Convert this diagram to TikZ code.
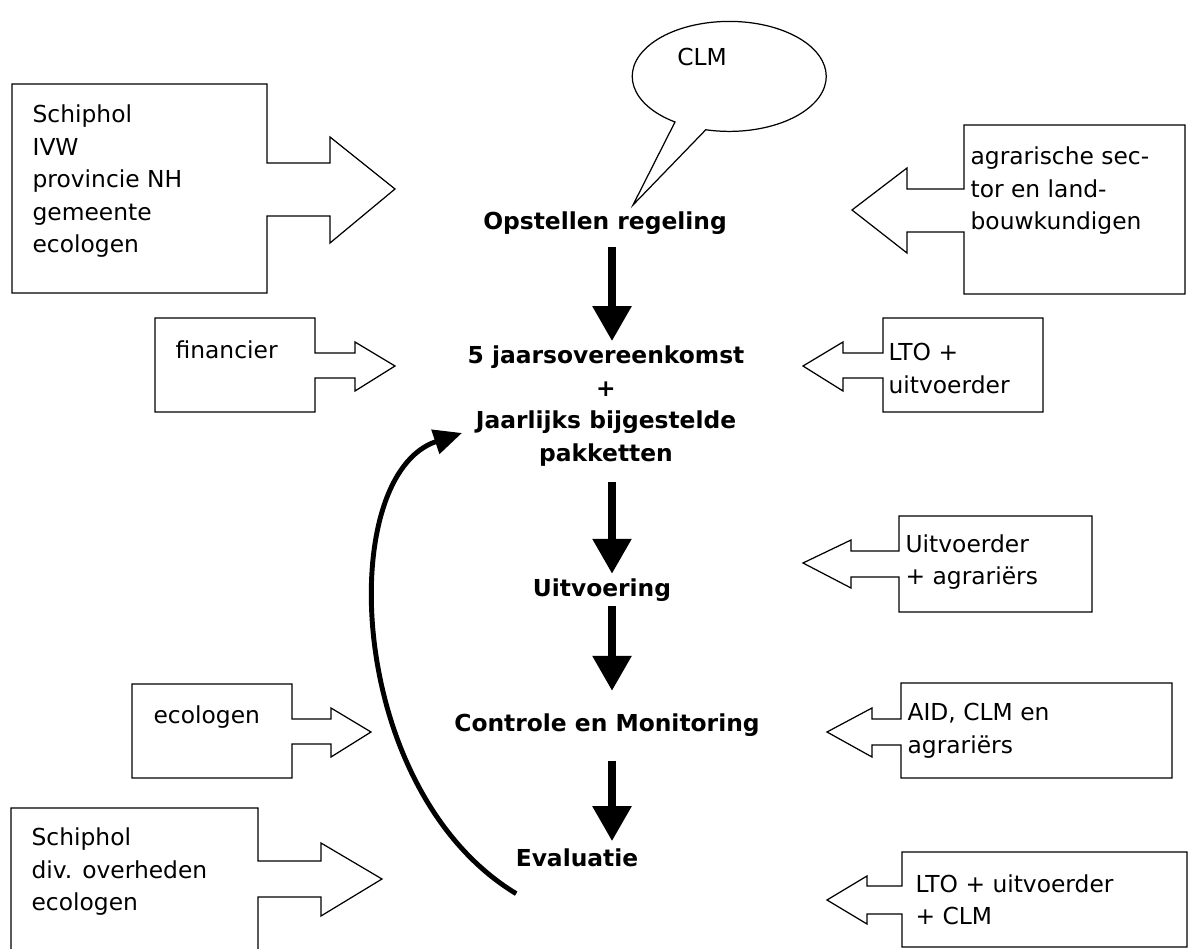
\documentclass[tikz,border=0pt]{standalone}
\usepackage{fontspec}
\setmainfont{DejaVu Sans}
\usetikzlibrary{arrows.meta}

\begin{document}
\begin{tikzpicture}[x=0.02cm, y=-0.02cm,
    every path/.style = {line width=0.7pt},
    every node/.style = {inner sep=0pt, font=\fontsize{13.3}{18.5}\selectfont},
    stage/.style = {font=\fontsize{13.3}{18.5}\selectfont\bfseries, align=center},
    party/.style = {anchor=west, align=left},
    callout/.style = {fill=white},
    flow/.style = {line width=5.1pt, -{Triangle[width=21pt, length=20pt]}},
    feedback/.style = {line width=2.8pt, -{Triangle[width=14pt, length=16pt]}}]

        \useasboundingbox (0,0) rectangle (1188,949);

        % The stages of the process, down the middle.
        \node[stage] (opstellen) at (605,223) {Opstellen regeling};
        \node[stage] (overeenkomst) at (606,406)
            {5 jaarsovereenkomst\\+\\Jaarlijks bijgestelde\\pakketten};
        \node[stage] (uitvoering) at (602,590) {Uitvoering};
        \node[stage] (controle) at (607,725) {Controle en Monitoring};
        \node[stage] (evaluatie) at (577,858) {Evaluatie};

        % Thick arrows from stage to stage.
        \coordinate (col) at (612,0);
        \draw[flow, shorten <=7pt, shorten >=2.3pt]
            (opstellen.south -| col) -- (overeenkomst.north -| col);
        \draw[flow, shorten <=8.5pt, shorten >=2.3pt]
            (overeenkomst.south -| col) -- (uitvoering.north -| col);
        \draw[flow, shorten <=2pt, shorten >=12.5pt]
            (uitvoering.south -| col) -- (controle.north -| col);
        \draw[flow, shorten <=13.4pt, shorten >=4pt]
            (controle.south -| col) -- (evaluatie.north -| col);

        % Feedback from the evaluation back to the agreement.
        \draw[feedback] ([shift={(1,26)}]evaluatie.south west)
            .. controls (345,790) and (335,475) .. ([shift={(-5,27)}]overeenkomst.west);

        % The speech bubble.
        \draw[callout] (675,122) arc[start angle=124, end angle=464,
            x radius=97, y radius=55] -- (633,205) -- cycle;
        \node (clm) at (702,57) {CLM};

        % Parties on the left, pointing right.
        \begin{scope}[every path/.append style = callout]
            \draw (12,84) -- (267,84) -- (267,163) -- (330,163) -- (330,137)
                -- (395,189) -- (330,243) -- (330,216) -- (267,216) -- (267,293)
                -- (12,293) -- cycle;
            \draw (155,318) -- (315,318) -- (315,353) -- (355,353) -- (355,342)
                -- (395,366) -- (355,391) -- (355,378) -- (315,378) -- (315,412)
                -- (155,412) -- cycle;
            \draw (132,684) -- (292,684) -- (292,719) -- (331,719) -- (331,708)
                -- (371,732) -- (331,757) -- (331,744) -- (292,744) -- (292,778)
                -- (132,778) -- cycle;
            \draw (258,949) -- (258,897) -- (321,897) -- (321,916) -- (382,879)
                -- (321,843) -- (321,861) -- (258,861) -- (258,808) -- (11,808)
                -- (11,949);
        \end{scope}

        % Parties on the right, pointing left.
        \begin{scope}[every path/.append style = callout]
            \draw (1185,125) -- (964,125) -- (964,189) -- (907,189) -- (907,168)
                -- (852,210) -- (907,253) -- (907,232) -- (964,232) -- (964,294)
                -- (1185,294) -- cycle;
            \draw (1043,318) -- (883,318) -- (883,353) -- (843,353) -- (843,342)
                -- (803,366) -- (843,391) -- (843,378) -- (883,378) -- (883,412)
                -- (1043,412) -- cycle;
            \draw (1092,516) -- (899,516) -- (899,551) -- (851,551) -- (851,540)
                -- (803,563) -- (851,588) -- (851,577) -- (899,577) -- (899,612)
                -- (1092,612) -- cycle;
            \draw (1172,683) -- (901,683) -- (901,719) -- (872,719) -- (872,708)
                -- (827,732) -- (872,757) -- (872,745) -- (901,745) -- (901,778)
                -- (1172,778) -- cycle;
            \draw (1187,852) -- (902,852) -- (902,886) -- (867,886) -- (867,876)
                -- (827,900) -- (867,924) -- (867,914) -- (902,914) -- (902,947)
                -- (1187,947) -- cycle;
        \end{scope}

        % Label the parties.
        \node[party] (schiphol) at (32,181.5)
            {Schiphol\\IVW\\provincie NH\\gemeente\\ecologen};
        \node[party] (sector) at (970,191)
            {agrarische sec-\\tor en land-\\bouwkundigen};
        \node[party] (financier) at (175,350) {financier};
        \node[party] (lto) at (888,368.5) {LTO +\\uitvoerder};
        \node[party] (uitvoerder) at (905,562) {Uitvoerder\\+ agrariërs};
        \node[party] (ecologen) at (153,717) {ecologen};
        \node[party] (aid) at (907,731) {AID, CLM en\\agrariërs};
        \node[party] (overheden) at (31,872) {Schiphol\\div. overheden\\ecologen};
        \node[party] (ltoclm) at (915,900) {LTO + uitvoerder\\+ CLM};
    \end{tikzpicture}
\end{document}
